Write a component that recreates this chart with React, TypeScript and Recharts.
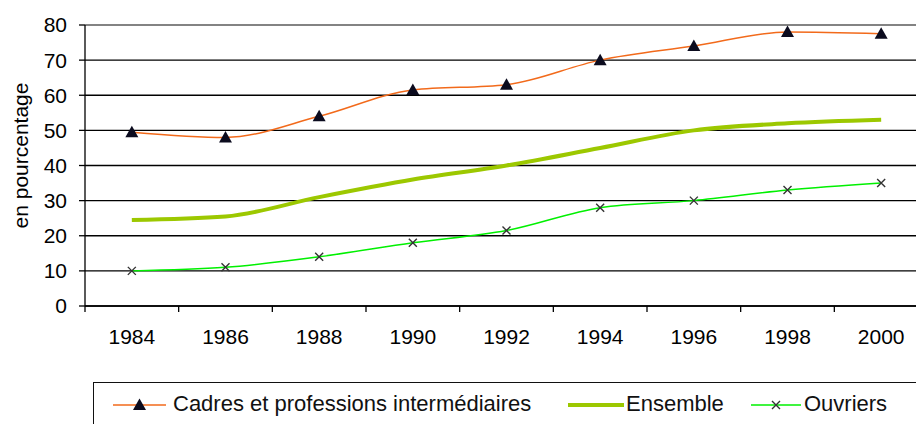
import { CartesianGrid, Legend, Line, LineChart, ReferenceLine, XAxis, YAxis } from "recharts";

const years = ["1984", "1986", "1988", "1990", "1992", "1994", "1996", "1998", "2000"];
const cadres = [49.5, 48, 54, 61.5, 63, 70, 74, 78, 77.5];
const ensemble = [24.5, 25.5, 31, 36, 40, 45, 50, 52, 53];
const ouvriers = [10, 11, 14, 18, 21.5, 28, 30, 33, 35];
const yTicks = [0, 10, 20, 30, 40, 50, 60, 70, 80];

const data = years.map((annee, i) => ({
  annee,
  cadres: cadres[i],
  ensemble: ensemble[i],
  ouvriers: ouvriers[i],
}));

const FONT = "'Liberation Sans', Arial, sans-serif";
const CHART_W = 940;
const CHART_H = 424;
const YAXIS_W = 85;
const MARGIN = { top: 25, right: 12, bottom: 0, left: 0 };
const HALF = (CHART_W - YAXIS_W - MARGIN.right) / years.length / 2;

const ORANGE = "#F26A1B";
const OLIVE = "#9CC800";
const GREEN = "#00F000";

function Triangle({ cx, cy }: any) {
  if (cx == null || cy == null) return null;
  return <path d={`M${cx},${cy - 6.5} L${cx + 6.5},${cy + 5} L${cx - 6.5},${cy + 5} Z`} fill="#0b0b1e" />;
}

function Cross({ cx, cy }: any) {
  if (cx == null || cy == null) return null;
  return (
    <path
      d={`M${cx - 4},${cy - 4} L${cx + 4},${cy + 4} M${cx - 4},${cy + 4} L${cx + 4},${cy - 4}`}
      stroke="#333"
      strokeWidth={1.4}
    />
  );
}

function XTick({ x, y, payload }: any) {
  return (
    <g>
      <line x1={x - HALF} x2={x - HALF} y1={y - 23} y2={y - 17} stroke="#000" strokeWidth={1.3} />
      <text x={x} y={y} dy="0.71em" textAnchor="middle" fontSize={21} fill="#000" fontFamily={FONT}>
        {payload.value}
      </text>
    </g>
  );
}

function YLabel({ viewBox }: any) {
  const x = (viewBox?.x ?? 0) + 20;
  const y = (viewBox?.y ?? 0) + (viewBox?.height ?? 0) / 2 - 10;
  return (
    <text
      x={x}
      y={y}
      transform={`rotate(-90, ${x}, ${y})`}
      textAnchor="middle"
      dominantBaseline="central"
      fontSize={21}
      fill="#000"
      fontFamily={FONT}
    >
      en pourcentage
    </text>
  );
}

const legendItems = [
  { label: "Cadres et professions intermédiaires", color: ORANGE, width: 1.5, line: [19, 72], text: 79, marker: "tri" },
  { label: "Ensemble", color: OLIVE, width: 4, line: [474, 530], text: 532, marker: "" },
  { label: "Ouvriers", color: GREEN, width: 1.5, line: [657, 707], text: 710, marker: "x" },
];

function LegendBox() {
  return (
    <div
      style={{
        position: "relative",
        width: 900,
        height: 60,
        border: "1px solid #111",
        background: "#fff",
        fontFamily: FONT,
        fontSize: 22,
        color: "#111",
      }}
    >
      {legendItems.map((it) => {
        const mid = (it.line[0] + it.line[1]) / 2;
        return (
          <div key={it.label}>
            <svg
              style={{ position: "absolute", left: it.line[0], top: 12 }}
              width={it.line[1] - it.line[0]}
              height={20}
            >
              <line x1={0} x2={it.line[1] - it.line[0]} y1={10} y2={10} stroke={it.color} strokeWidth={it.width} />
              {it.marker === "tri" && <Triangle cx={mid - it.line[0]} cy={10} />}
              {it.marker === "x" && <Cross cx={mid - it.line[0]} cy={10} />}
            </svg>
            <span style={{ position: "absolute", left: it.text, top: 9, lineHeight: "24px", whiteSpace: "nowrap" }}>
              {it.label}
            </span>
          </div>
        );
      })}
    </div>
  );
}

export default function App() {
  return (
    <div style={{ position: "absolute", left: 0, top: 0, width: 916, height: 424, overflow: "hidden", background: "#fff" }}>
      <LineChart width={CHART_W} height={CHART_H} data={data} margin={MARGIN}>
        <CartesianGrid vertical={false} stroke="#000" strokeWidth={1.3} />
        <ReferenceLine y={80} stroke="#9a9a9a" strokeWidth={1.3} />
        <XAxis
          dataKey="annee"
          height={CHART_H - 306 - MARGIN.bottom}
          padding={{ left: HALF, right: HALF }}
          tickLine={false}
          tickSize={6}
          tickMargin={17}
          axisLine={{ stroke: "#000", strokeWidth: 1.3 }}
          tick={<XTick />}
          interval={0}
        />
        <YAxis
          width={YAXIS_W}
          domain={[0, 80]}
          ticks={yTicks}
          interval={0}
          tickSize={6}
          tickMargin={12}
          tickLine={{ stroke: "#000", strokeWidth: 1.3 }}
          axisLine={{ stroke: "#000", strokeWidth: 1.3 }}
          tick={{ fontSize: 21, fill: "#000", fontFamily: FONT }}
          label={<YLabel />}
        />
        <Line
          type="monotone"
          dataKey="ensemble"
          name="Ensemble"
          stroke={OLIVE}
          strokeWidth={4}
          dot={false}
          isAnimationActive={false}
        />
        <Line
          type="monotone"
          dataKey="ouvriers"
          name="Ouvriers"
          stroke={GREEN}
          strokeWidth={1.5}
          dot={<Cross />}
          isAnimationActive={false}
        />
        <Line
          type="monotone"
          dataKey="cadres"
          name="Cadres et professions intermédiaires"
          stroke={ORANGE}
          strokeWidth={1.5}
          dot={<Triangle />}
          isAnimationActive={false}
        />
        <Legend
          layout="horizontal"
          verticalAlign="middle"
          align="center"
          wrapperStyle={{ position: "absolute", top: 382, left: 93, width: 900, margin: 0 }}
          content={() => <LegendBox />}
        />
      </LineChart>
    </div>
  );
}
